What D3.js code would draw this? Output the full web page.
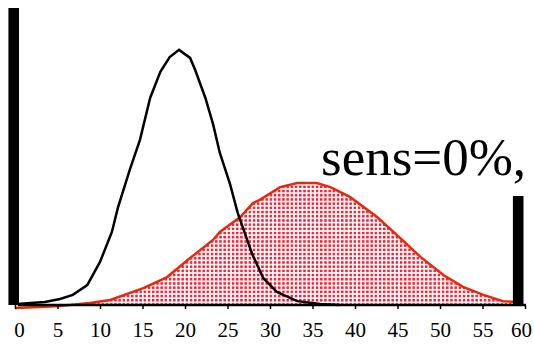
<!DOCTYPE html>
<html>
<head>
<meta charset="utf-8">
<script src="https://d3js.org/d3.v7.min.js"></script>
<style>
	body { margin: 0; background: #fff; }
	svg { display: block; }
</style>
</head>
<body>
<svg id="chart" width="534" height="345"></svg>
<script>

WIDTH	= 534;
HEIGHT	= 345;

// x positions (0..60), heights as % of the tall left bar
var blackX = [0.35, 1.8, 3.5, 5.3, 6.8, 8.5, 10.0, 11.4, 12.1, 13.5, 14.7, 15.9, 17.1, 18.2, 19.3, 20.6, 21.2, 22.4, 23.3, 24.1, 25.3, 26.2, 27.9, 29.2, 30.8, 33.2, 35.9, 38.2];
var blackY = [0.3, 0.7, 1.0, 2.0, 3.4, 6.7, 14.5, 24.6, 32.7, 45.5, 55.6, 69.7, 78.5, 83.5, 85.9, 83.2, 79.1, 69.7, 60.9, 51.2, 40.7, 31.0, 17.2, 9.1, 4.4, 1.3, 0.3, 0];

var redX = [0, 2.9, 5.3, 8.8, 11.2, 15.1, 17.9, 20.6, 23.3, 24.1, 26.5, 28.0, 28.8, 31.2, 33.2, 35.5, 37.1, 39.4, 42.6, 45.3, 47.7, 50.4, 52.7, 55.1, 57.4, 59.1];
var redY = [-1.0, -0.7, -0.3, 0.7, 1.7, 5.7, 9.4, 15.8, 21.9, 24.6, 29.6, 34.3, 35.4, 39.7, 41.1, 41.1, 39.7, 36.4, 29.6, 22.6, 16.2, 10.1, 6.1, 3.4, 1.3, 1.0];

var barX = [-0.15, 59.2];
var barY = [100, 36.7];

var tickValues = [0, 5, 10, 15, 20, 25, 30, 35, 40, 45, 50, 55, 60];

var label = "sens=0%,";

function main() {

	var svg = d3.select("#chart");

	var x = d3.scaleLinear().domain([0, 60]).range([15, 525]);
	var y = d3.scaleLinear().domain([0, 100]).range([305, 8]);

	// dotted fill for the red curve
	var pattern = svg.append("defs").append("pattern")
		.attr("id", "dots")
		.attr("patternUnits", "userSpaceOnUse")
		.attr("width", 4.2)
		.attr("height", 4.2);

	pattern.append("rect")
		.attr("x", 0.8)
		.attr("y", 0.8)
		.attr("width", 2.5)
		.attr("height", 2.5)
		.attr("fill", "#ff1a30");

	var red		= redX.map(function(d, i) { return [d, redY[i]]; });
	var black	= blackX.map(function(d, i) { return [d, blackY[i]]; });

	var area = d3.area()
		.x(function(d) { return x(d[0]); })
		.y0(y(0))
		.y1(function(d) { return y(d[1]); });

	var line = d3.line()
		.x(function(d) { return x(d[0]); })
		.y(function(d) { return y(d[1]); });

	svg.append("path")
		.attr("d", area(red))
		.attr("fill", "url(#dots)");

	svg.append("path")
		.attr("d", line(red))
		.attr("fill", "none")
		.attr("stroke", "#e8280c")
		.attr("stroke-width", 2.5);

	svg.append("path")
		.attr("d", line(black))
		.attr("fill", "none")
		.attr("stroke", "#000")
		.attr("stroke-width", 2.5);

	// axis
	var axis = d3.axisBottom(x)
		.tickValues(tickValues)
		.tickSize(4)
		.tickPadding(13)
		.tickSizeOuter(0);

	var g = svg.append("g")
		.attr("transform", "translate(0," + y(0) + ")")
		.call(axis);

	g.select(".domain")
		.attr("stroke", "#000")
		.attr("stroke-width", 2.5)
		.attr("d", "M18,0H526");

	g.selectAll(".tick line")
		.attr("stroke", "#000")
		.attr("stroke-width", 1.5);

	// end labels sit a little inside their ticks in the original
	g.selectAll(".tick text")
		.attr("fill", "#000")
		.attr("dx", function(d) { return d == 0 ? 4 : ( d == 60 ? -4 : 0 ); })
		.style("font-family", "'Liberation Serif', 'Times New Roman', serif")
		.style("font-size", "21px");

	// the two thick bars
	svg.selectAll("rect.bar")
		.data(barX)
		.enter()
		.append("rect")
		.attr("class", "bar")
		.attr("x", function(d) { return x(d) - 5.3; })
		.attr("y", function(d, i) { return y(barY[i]); })
		.attr("width", 10.6)
		.attr("height", function(d, i) { return y(0) - y(barY[i]); })
		.attr("fill", "#000");

	svg.append("text")
		.attr("x", 321)
		.attr("y", 175)
		.style("font-family", "'Liberation Serif', 'Times New Roman', serif")
		.style("font-size", "53px")
		.attr("fill", "#000")
		.text(label);
}

main();

</script>
</body>
</html>
